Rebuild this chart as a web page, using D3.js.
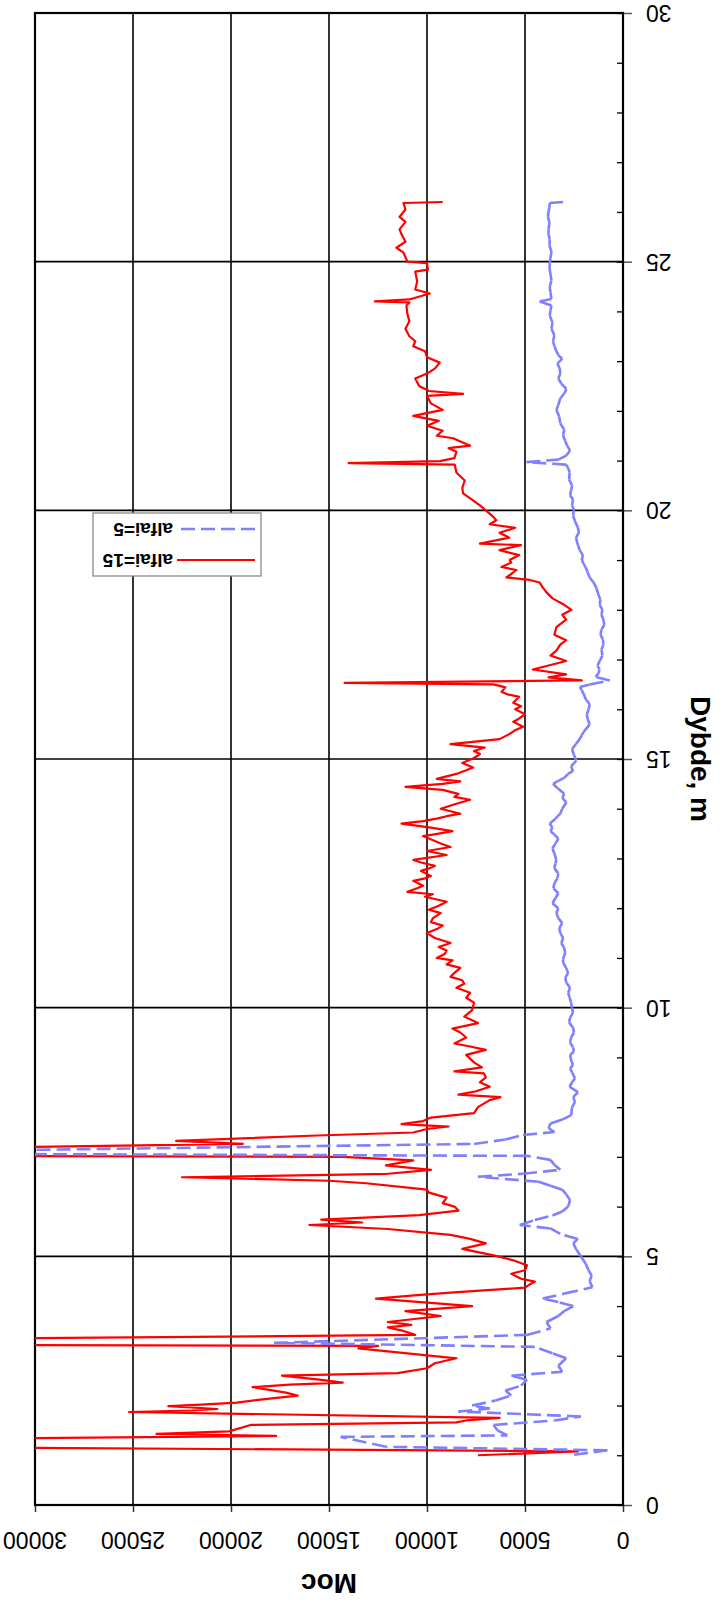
<!DOCTYPE html>
<html>
<head>
<meta charset="utf-8">
<script src="https://cdn.jsdelivr.net/npm/d3@7"></script>
<style>
  body { margin: 0; background: #fff; }
  text { font-family: "Liberation Sans", Arial, sans-serif; fill: #000; }
</style>
</head>
<body>
<div id="chart"></div>
<script>
// axis ticks
const depthTicks = [0, 5, 10, 15, 20, 25, 30];
const mocTicks = [0, 5000, 10000, 15000, 20000, 25000, 30000];
const seriesNames = ["alfai=15", "alfai=5"];

// [depth m, Moc] (values past 30000 run out of the plot)
const alfai15 = [
  [1.00, 7400], [1.08, 2300], [1.16, 34000], [1.33, 34000], [1.39, 17700], [1.43, 23800],
  [1.48, 20100], [1.61, 19000], [1.66, 8500], [1.70, 8000], [1.75, 6300], [1.87, 25200],
  [1.90, 22000], [1.93, 20700], [1.99, 23200], [2.02, 21500], [2.06, 19700], [2.12, 18500],
  [2.20, 16600], [2.26, 17200], [2.37, 18900], [2.42, 17000], [2.46, 14300], [2.52, 15500],
  [2.60, 17400], [2.65, 11500], [2.75, 10000], [2.85, 9600], [2.95, 8500], [3.15, 13500],
  [3.20, 12500], [3.22, 34000], [3.34, 34000], [3.42, 10600], [3.50, 11200], [3.57, 12000],
  [3.62, 10800], [3.68, 12000], [3.80, 9300], [3.90, 11100], [4.00, 7700], [4.15, 12600],
  [4.22, 10500], [4.27, 8800], [4.37, 5000], [4.45, 4700], [4.49, 4500], [4.55, 5200],
  [4.65, 5700], [4.72, 5000], [4.82, 4900], [4.92, 5600], [5.02, 6600], [5.15, 8200],
  [5.26, 7000], [5.35, 7800], [5.43, 8800], [5.55, 12000], [5.63, 16000], [5.68, 13300],
  [5.74, 15400], [5.83, 10400], [5.92, 8400], [6.00, 8600], [6.07, 9200], [6.18, 9000],
  [6.28, 9900], [6.34, 10000], [6.47, 13100], [6.52, 15000], [6.59, 22500], [6.66, 12000],
  [6.74, 9800], [6.83, 12100], [6.93, 10700], [7.00, 14300], [7.02, 34000], [7.18, 34000],
  [7.26, 19400], [7.32, 22800], [7.43, 15600], [7.49, 10700], [7.56, 10000], [7.61, 8900],
  [7.66, 11300], [7.72, 10200], [7.79, 9800], [7.88, 7600], [8.00, 7400], [8.14, 6800],
  [8.20, 6250], [8.25, 8400], [8.32, 7500], [8.41, 6800], [8.50, 7300], [8.60, 7000],
  [8.68, 7100], [8.72, 8600], [8.80, 7200], [8.90, 7600], [9.05, 8000], [9.15, 7000],
  [9.22, 7800], [9.28, 8600], [9.40, 8000], [9.50, 8300], [9.58, 8700], [9.69, 7400],
  [9.82, 8100], [9.95, 7700], [10.10, 7600], [10.20, 8000], [10.30, 7800], [10.40, 8500],
  [10.48, 8100], [10.55, 8200], [10.62, 8800], [10.70, 8600], [10.80, 8300], [10.87, 9000],
  [10.95, 8700], [11.00, 9500], [11.08, 9100], [11.15, 9000], [11.22, 9400], [11.30, 8800],
  [11.40, 9600], [11.50, 10000], [11.58, 9500], [11.65, 9200], [11.72, 9800], [11.80, 9700],
  [11.90, 9300], [11.97, 9900], [12.05, 9400], [12.13, 9000], [12.23, 10100], [12.28, 9700],
  [12.33, 11000], [12.40, 10500], [12.45, 10200], [12.55, 10700], [12.60, 10100], [12.65, 9800],
  [12.75, 10300], [12.80, 9900], [12.85, 9600], [12.92, 10300], [12.97, 10700], [13.07, 9000],
  [13.15, 10000], [13.23, 8800], [13.30, 9300], [13.35, 9600], [13.45, 10200], [13.50, 9400],
  [13.55, 8700], [13.62, 9800], [13.70, 11300], [13.75, 10200], [13.80, 9500], [13.85, 9000],
  [13.90, 8300], [13.95, 8800], [14.00, 9300], [14.10, 8500], [14.18, 7800], [14.24, 8600],
  [14.30, 8400], [14.38, 9200], [14.44, 11100], [14.50, 9200], [14.55, 8300], [14.60, 9500],
  [14.70, 8500], [14.76, 8100], [14.83, 7650], [14.92, 8200], [15.02, 7600], [15.10, 7300],
  [15.16, 7600], [15.23, 7050], [15.30, 8800], [15.40, 6300], [15.50, 5800], [15.58, 5500],
  [15.65, 5100], [15.75, 5600], [15.80, 5350], [15.90, 5000], [16.00, 5500], [16.06, 5200],
  [16.13, 5600], [16.25, 5300], [16.30, 5900], [16.35, 6200], [16.44, 6000], [16.50, 6600],
  [16.53, 14200], [16.58, 2100], [16.64, 3800], [16.70, 2900], [16.80, 4600], [16.88, 3800],
  [16.97, 2900], [17.08, 3700], [17.18, 3400], [17.30, 3200], [17.39, 2900], [17.50, 3500],
  [17.65, 3400], [17.80, 2900], [17.90, 3100], [18.00, 2630], [18.10, 3000], [18.23, 3600],
  [18.35, 3900], [18.45, 4100], [18.55, 4250], [18.60, 4760], [18.65, 5950], [18.75, 5600],
  [18.80, 5440], [18.86, 6200], [18.95, 5700], [19.00, 5780], [19.10, 5300], [19.20, 6300],
  [19.30, 5200], [19.33, 7300], [19.45, 5800], [19.55, 6300], [19.65, 5500], [19.72, 6800],
  [19.80, 6460], [19.90, 6700], [20.00, 7000], [20.10, 7300], [20.20, 7650], [20.34, 8160],
  [20.45, 8200], [20.60, 8075], [20.76, 8500], [20.92, 8585], [20.95, 14000], [20.99, 9350],
  [21.05, 8600], [21.18, 8500], [21.25, 8900], [21.30, 7800], [21.45, 8670], [21.50, 9500],
  [21.60, 9200], [21.70, 10000], [21.80, 9400], [21.90, 10700], [22.02, 9200], [22.15, 9800],
  [22.30, 10000], [22.34, 8160], [22.40, 9900], [22.50, 10400], [22.65, 10600], [22.75, 10000],
  [22.85, 9600], [22.97, 9350], [23.08, 10000], [23.20, 10100], [23.30, 10700], [23.40, 10600],
  [23.50, 10900], [23.65, 11100], [23.80, 10900], [23.95, 11000], [24.12, 11050], [24.18, 10900],
  [24.20, 12660], [24.24, 10900], [24.36, 9860], [24.44, 10600], [24.60, 10500], [24.80, 10600],
  [24.84, 9950], [24.97, 10000], [25.00, 11000], [25.18, 11200], [25.28, 11560], [25.40, 11100],
  [25.55, 11300], [25.65, 11400], [25.80, 11100], [25.90, 11400], [26.05, 11100], [26.18, 11200],
  [26.20, 9200]
];

const alfai5 = [
  [1.01, 2500], [1.10, 800], [1.17, 12100], [1.37, 14400], [1.40, 5900], [1.50, 6400],
  [1.61, 6600], [1.70, 3500], [1.78, 2150], [1.88, 8400], [1.94, 6800], [2.00, 7700],
  [2.10, 6500], [2.20, 5700], [2.30, 6000], [2.40, 5200], [2.52, 4900], [2.60, 5700],
  [2.68, 3100], [2.80, 3300], [2.95, 2900], [3.05, 3600], [3.18, 4500], [3.26, 17800],
  [3.42, 4900], [3.55, 3700], [3.68, 3900], [3.80, 3300], [3.90, 3000], [4.00, 2540],
  [4.08, 3300], [4.15, 4100], [4.25, 3000], [4.38, 1560], [4.50, 1700], [4.62, 1600],
  [4.72, 1760], [4.85, 1900], [5.00, 2150], [5.15, 2400], [5.26, 2540], [5.35, 2300],
  [5.45, 3200], [5.56, 3700], [5.63, 5270], [5.73, 4500], [5.82, 3600], [5.90, 3100],
  [6.00, 2800], [6.13, 2700], [6.25, 2900], [6.34, 3100], [6.42, 3700], [6.50, 4300],
  [6.60, 7400], [6.66, 5100], [6.74, 3200], [6.84, 3500], [6.94, 3700], [7.02, 4900],
  [7.06, 34000], [7.12, 34000], [7.26, 7600], [7.35, 6000], [7.44, 5100], [7.50, 3500],
  [7.58, 3800], [7.67, 3700], [7.75, 3100], [7.84, 2640], [8.00, 2600], [8.10, 2450],
  [8.20, 2540], [8.30, 2300], [8.41, 2730], [8.50, 2600], [8.58, 2450], [8.70, 2600],
  [8.78, 2700], [8.85, 2550], [8.95, 2650], [9.05, 2700], [9.12, 2500], [9.20, 2550],
  [9.30, 2700], [9.40, 2650], [9.50, 2500], [9.60, 2550], [9.70, 2750], [9.80, 2700],
  [9.90, 2550], [10.00, 2600], [10.10, 2650], [10.20, 2720], [10.30, 2800], [10.40, 2700],
  [10.50, 2890], [10.60, 2950], [10.70, 2800], [10.80, 2900], [10.90, 3050], [10.97, 3060],
  [11.10, 2950], [11.20, 3000], [11.30, 3150], [11.40, 3050], [11.50, 3200], [11.60, 3250],
  [11.70, 3100], [11.80, 3300], [11.90, 3400], [12.00, 3300], [12.10, 3600], [12.20, 3450],
  [12.30, 3300], [12.40, 3550], [12.50, 3500], [12.60, 3350], [12.70, 3300], [12.80, 3500],
  [12.90, 3450], [12.97, 3400], [13.10, 3500], [13.20, 3600], [13.30, 3450], [13.40, 3300],
  [13.48, 3500], [13.55, 3700], [13.62, 3600], [13.70, 3740], [13.80, 3450], [13.90, 3200],
  [14.00, 3100], [14.13, 2890], [14.22, 3100], [14.30, 3000], [14.40, 3300], [14.50, 3570],
  [14.56, 3300], [14.62, 3000], [14.70, 2800], [14.76, 2550], [14.85, 2650], [14.97, 2380],
  [15.08, 2500], [15.20, 2600], [15.30, 2400], [15.40, 2210], [15.48, 2100], [15.55, 2000],
  [15.62, 1850], [15.70, 1700], [15.80, 1800], [15.90, 1850], [16.00, 1750], [16.10, 1700],
  [16.20, 1900], [16.30, 2000], [16.38, 2100], [16.45, 2200], [16.50, 1700], [16.58, 680],
  [16.65, 1400], [16.72, 1250], [16.80, 1200], [16.88, 1300], [16.97, 1190], [17.08, 1050],
  [17.20, 1100], [17.30, 1000], [17.40, 1020], [17.50, 1150], [17.60, 1100], [17.70, 950],
  [17.80, 1000], [17.90, 1100], [18.00, 1050], [18.10, 1190], [18.20, 1150], [18.30, 1250],
  [18.44, 1360], [18.55, 1500], [18.65, 1700], [18.75, 1800], [18.85, 1900], [18.92, 2000],
  [19.00, 2100], [19.10, 2050], [19.20, 2210], [19.30, 2300], [19.45, 2400], [19.55, 2250],
  [19.65, 2300], [19.78, 2450], [19.90, 2550], [20.00, 2500], [20.10, 2600], [20.22, 2550],
  [20.30, 2700], [20.40, 2650], [20.50, 2600], [20.62, 2750], [20.76, 2720], [20.85, 2800],
  [20.92, 2900], [20.97, 4930], [21.02, 3300], [21.10, 2900], [21.20, 2700], [21.30, 2850],
  [21.40, 2950], [21.50, 3060], [21.62, 3000], [21.75, 3200], [21.88, 3250], [22.02, 3400],
  [22.12, 3300], [22.25, 3200], [22.35, 3000], [22.44, 2890], [22.55, 3150], [22.65, 3300],
  [22.75, 3200], [22.86, 3230], [22.95, 3350], [23.05, 3100], [23.12, 3300], [23.20, 3400],
  [23.30, 3500], [23.40, 3570], [23.52, 3500], [23.65, 3650], [23.78, 3600], [23.92, 3740],
  [24.02, 3700], [24.12, 3650], [24.20, 4250], [24.25, 3650], [24.38, 3700], [24.50, 3740],
  [24.62, 3650], [24.75, 3700], [24.87, 3750], [24.97, 3740], [25.08, 3700], [25.20, 3650],
  [25.32, 3750], [25.45, 3740], [25.55, 3800], [25.65, 3800], [25.78, 3750], [25.90, 3830],
  [26.00, 3800], [26.10, 3750], [26.18, 3740], [26.20, 3060]
];

// page + plot box
const W = 723, H = 1607;
const plot = { left: 35, right: 623, top: 13, bottom: 1505 };

const svg = d3.select("#chart")
  .append("svg")
  .attr("width", W)
  .attr("height", H);

// value axis runs right -> left, depth runs bottom -> top
const x = d3.scaleLinear().domain([0, 30000]).range([plot.right, plot.left]);
const y = d3.scaleLinear().domain([0, 30]).range([plot.bottom, plot.top]);

svg.append("defs").append("clipPath").attr("id", "clip")
  .append("rect")
  .attr("x", plot.left).attr("y", plot.top)
  .attr("width", plot.right - plot.left).attr("height", plot.bottom - plot.top);

// gridlines
svg.append("g")
  .selectAll("line")
  .data(mocTicks)
  .join("line")
  .attr("x1", d => x(d)).attr("x2", d => x(d))
  .attr("y1", plot.top).attr("y2", plot.bottom)
  .attr("stroke", "#000").attr("stroke-width", 1.6);

svg.append("g")
  .selectAll("line")
  .data(depthTicks)
  .join("line")
  .attr("x1", plot.left).attr("x2", plot.right)
  .attr("y1", d => y(d)).attr("y2", d => y(d))
  .attr("stroke", "#000").attr("stroke-width", 1.6);

// depth axis: minor ticks inward, major ticks outward
svg.append("g")
  .attr("transform", `translate(${plot.right},0)`)
  .call(d3.axisLeft(y).tickValues(d3.range(0, 31)).tickSize(6).tickFormat(""))
  .call(g => g.select(".domain").remove())
  .selectAll("line").attr("stroke", "#000").attr("stroke-width", 1.3);

svg.append("g")
  .attr("transform", `translate(${plot.right},0)`)
  .call(d3.axisRight(y).tickValues(depthTicks).tickSize(9).tickFormat(""))
  .call(g => g.select(".domain").remove())
  .selectAll("line").attr("stroke", "#555").attr("stroke-width", 1.5);

// Moc axis ticks
svg.append("g")
  .attr("transform", `translate(0,${plot.bottom})`)
  .call(d3.axisBottom(x).tickValues(mocTicks).tickSize(7).tickFormat(""))
  .call(g => g.select(".domain").remove())
  .selectAll("line").attr("stroke", "#333").attr("stroke-width", 1.5);

// plot border
svg.append("rect")
  .attr("x", plot.left).attr("y", plot.top)
  .attr("width", plot.right - plot.left).attr("height", plot.bottom - plot.top)
  .attr("fill", "none").attr("stroke", "#000").attr("stroke-width", 2.2);

// tick labels (upside down, as in the original)
svg.append("g")
  .selectAll("text")
  .data(depthTicks)
  .join("text")
  .attr("transform", d => `translate(646,${y(d)}) rotate(180)`)
  .attr("text-anchor", "end")
  .attr("dominant-baseline", "central")
  .style("font-size", "23px")
  .text(d => d);

svg.append("g")
  .selectAll("text")
  .data(mocTicks)
  .join("text")
  .attr("transform", d => `translate(${x(d)},1540) rotate(180)`)
  .attr("text-anchor", "middle")
  .attr("dominant-baseline", "central")
  .style("font-size", "23px")
  .text(d => d);

// axis titles
svg.append("text")
  .attr("transform", `translate(${(plot.left + plot.right) / 2},1583) rotate(180)`)
  .attr("text-anchor", "middle")
  .attr("dominant-baseline", "central")
  .style("font-size", "28px").style("font-weight", "bold")
  .text("Moc");

svg.append("text")
  .attr("transform", `translate(700,${(plot.top + plot.bottom) / 2}) rotate(90)`)
  .attr("text-anchor", "middle")
  .attr("dominant-baseline", "central")
  .style("font-size", "28px").style("font-weight", "bold")
  .text("Dybde, m");

// series
const lines = svg.append("g").attr("clip-path", "url(#clip)");

const line = d3.line()
  .x(d => x(d[1]))
  .y(d => y(d[0]));

lines.append("path")
  .datum(alfai15)
  .attr("d", line)
  .attr("fill", "none")
  .attr("stroke", "#ff0000")
  .attr("stroke-width", 2.2)
  .attr("stroke-linejoin", "round");

// dash restarts on every segment, like the original plot
lines.append("g")
  .selectAll("line")
  .data(d3.pairs(alfai5))
  .join("line")
  .attr("x1", d => x(d[0][1])).attr("y1", d => y(d[0][0]))
  .attr("x2", d => x(d[1][1])).attr("y2", d => y(d[1][0]))
  .attr("stroke", "#8080ff")
  .attr("stroke-width", 2.6)
  .attr("stroke-dasharray", "14,6");

// legend
const legend = svg.append("g");
legend.append("rect")
  .attr("x", 93).attr("y", 513).attr("width", 168).attr("height", 63)
  .attr("fill", "#fff").attr("stroke", "#808080").attr("stroke-width", 1.2);

const legendRows = [
  { name: seriesNames[1], y: 529, color: "#8080ff", dash: "14,6", w: 2.6 },
  { name: seriesNames[0], y: 560, color: "#ff0000", dash: null, w: 2.2 }
];

legendRows.forEach(r => {
  legend.append("line")
    .attr("x1", 255).attr("x2", 177)
    .attr("y1", r.y).attr("y2", r.y)
    .attr("stroke", r.color).attr("stroke-width", r.w)
    .attr("stroke-dasharray", r.dash);
  legend.append("text")
    .attr("transform", `translate(173,${r.y}) rotate(180)`)
    .attr("text-anchor", "start")
    .attr("dominant-baseline", "central")
    .style("font-size", "19px").style("font-weight", "bold")
    .text(r.name);
});
</script>
</body>
</html>
